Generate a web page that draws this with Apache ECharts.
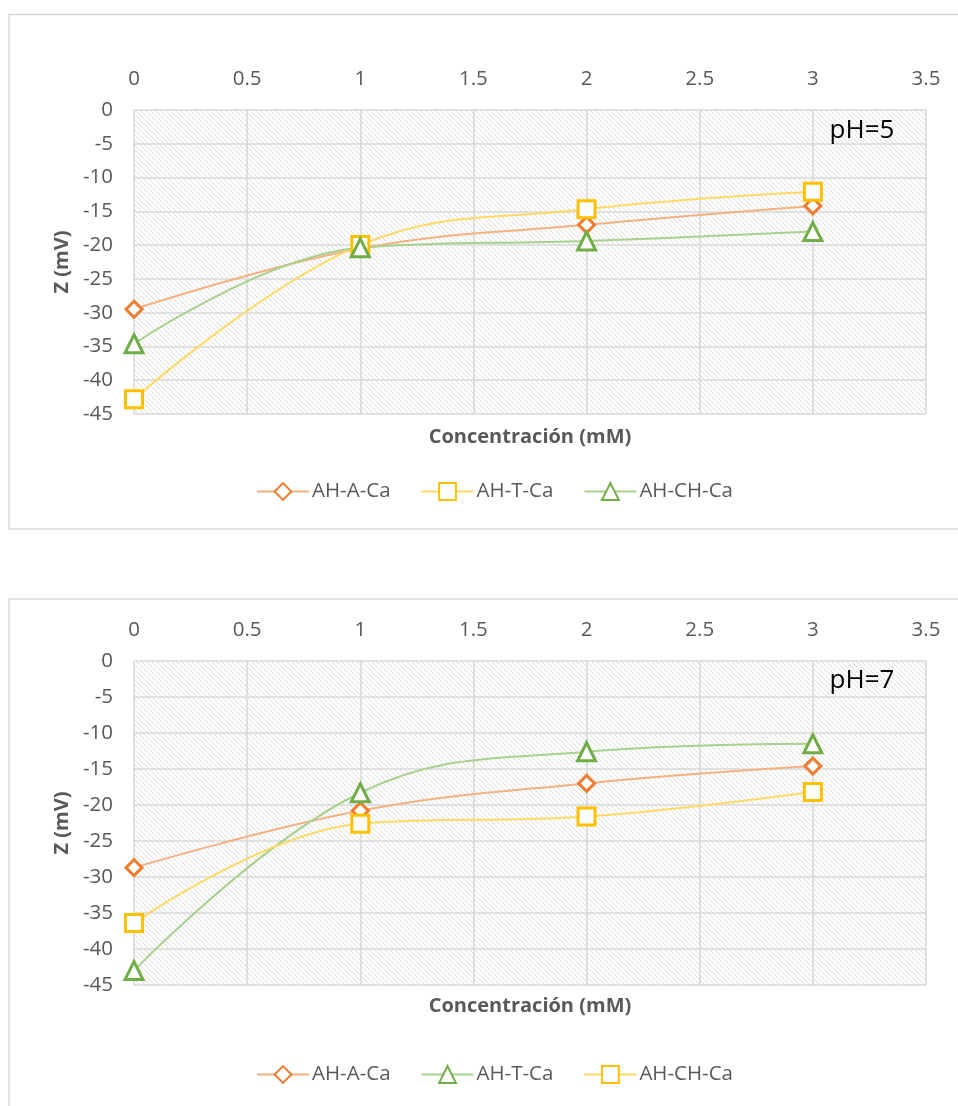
<!DOCTYPE html>
<html>
<head>
<meta charset="utf-8">
<script src="https://cdn.jsdelivr.net/npm/echarts@6/dist/echarts.min.js"></script>
<style>
  html, body { margin: 0; padding: 0; background: #ffffff; }
  #ph5, #ph7 { position: absolute; left: 0; width: 958px; }
  #ph5 { top: 0; height: 560px; }
  #ph7 { top: 560px; height: 546px; }
</style>
</head>
<body>
<div id="ph5"></div>
<div id="ph7"></div>
<script>
// Concentration of Ca (mM) and zeta potential readings (mV)
const concentration = [0, 1, 2, 3];
const xTicks = [0, 0.5, 1, 1.5, 2, 2.5, 3, 3.5];
const yTicks = [0, -5, -10, -15, -20, -25, -30, -35, -40, -45];

// pH = 5
const ph5_AH_A_Ca  = [-29.5, -20.5, -17.0, -14.2];
const ph5_AH_T_Ca  = [-42.8, -20.0, -14.7, -12.1];
const ph5_AH_CH_Ca = [-34.6, -20.4, -19.4, -18.0];

// pH = 7
const ph7_AH_A_Ca  = [-28.7, -20.8, -17.0, -14.6];
const ph7_AH_T_Ca  = [-43.0, -18.3, -12.6, -11.5];
const ph7_AH_CH_Ca = [-36.4, -22.6, -21.6, -18.2];

const FONT = '"Open Sans", "Noto Sans", sans-serif';
const GREY_TEXT = '#595959';
const GRID_LINE = '#d9d9d9';

const styles = {
  orange: { marker: '#ED7D31', line: '#F4B183', symbol: 'diamond', size: 16 },
  yellow: { marker: '#FFC000', line: '#FFD966', symbol: 'rect', size: 17 },
  green:  { marker: '#70AD47', line: '#A9D18E', symbol: 'triangle', size: 18 }
};

// Light diagonal hatch used as the plot background
function hatchPattern() {
  const c = document.createElement('canvas');
  const n = 5;
  c.width = n; c.height = n;
  const g = c.getContext('2d');
  g.fillStyle = '#ffffff';
  g.fillRect(0, 0, n, n);
  g.fillStyle = '#dcdcdc';
  for (let i = 0; i < n; i++) g.fillRect(i, i, 1, 1);
  return { image: c, repeat: 'repeat' };
}

function pairs(values) {
  return concentration.map((x, i) => [x, values[i]]);
}

function makeSeries(name, values, st) {
  return {
    name: name,
    type: 'line',
    smooth: 0.4,
    data: pairs(values),
    symbol: st.symbol,
    symbolSize: st.size,
    lineStyle: { color: st.line, width: 2 },
    itemStyle: { color: '#ffffff', borderColor: st.marker, borderWidth: 3 },
    emphasis: { disabled: true },
    z: 3
  };
}

function buildOption(cfg) {
  return {
    animation: false,
    textStyle: { fontFamily: FONT },
    graphic: [
      {
        type: 'rect',
        shape: { x: 9, y: cfg.boxTop, width: 980, height: cfg.boxHeight },
        style: { fill: 'none', stroke: GRID_LINE, lineWidth: 1.5 },
        silent: true
      },
      {
        type: 'text',
        x: 862, y: cfg.phY,
        style: {
          text: cfg.phText, fill: '#000000', font: '26px ' + FONT,
          align: 'center', verticalAlign: 'middle'
        },
        z: 10
      },
      {
        type: 'text',
        x: 530, y: cfg.xTitleY,
        style: {
          text: 'Concentración (mM)', fill: GREY_TEXT, font: 'bold 20px ' + FONT,
          align: 'center', verticalAlign: 'middle'
        }
      }
    ],
    grid: {
      show: true,
      left: 134, top: cfg.gridTop, width: 792, height: cfg.gridHeight,
      backgroundColor: hatchPattern(),
      borderWidth: 0
    },
    xAxis: {
      type: 'value', position: 'top',
      min: xTicks[0], max: xTicks[xTicks.length - 1], interval: 0.5,
      axisLine: { show: false }, axisTick: { show: false },
      splitLine: { show: true, lineStyle: { color: GRID_LINE, width: 1.6 } },
      axisLabel: { color: GREY_TEXT, fontSize: 20.5, fontFamily: FONT, margin: 20 }
    },
    yAxis: {
      type: 'value',
      min: yTicks[yTicks.length - 1], max: yTicks[0], interval: 5,
      axisLine: { show: false }, axisTick: { show: false },
      splitLine: { show: true, lineStyle: { color: GRID_LINE, width: 1.6 } },
      axisLabel: { color: GREY_TEXT, fontSize: 20.5, fontFamily: FONT, margin: 21 },
      name: 'Z (mV)', nameLocation: 'middle', nameRotate: 90, nameGap: 40,
      nameTextStyle: { color: GREY_TEXT, fontWeight: 'bold', fontSize: 20, fontFamily: FONT }
    },
    legend: {
      top: cfg.legendTop, left: 251,
      itemWidth: 52, itemHeight: 21, itemGap: 30,
      textStyle: { color: GREY_TEXT, fontSize: 20.5, fontFamily: FONT, padding: [0, 0, 0, -2] },
      data: cfg.series.map(s => s.name)
    },
    series: cfg.series
  };
}

const chart5 = echarts.init(document.getElementById('ph5'), null, { renderer: 'canvas' });
chart5.setOption(buildOption({
  boxTop: 14.5, boxHeight: 514.5,
  gridTop: 110, gridHeight: 304,
  phText: 'pH=5', phY: 131,
  xTitleY: 437,
  legendTop: 476,
  series: [
    makeSeries('AH-A-Ca', ph5_AH_A_Ca, styles.orange),
    makeSeries('AH-T-Ca', ph5_AH_T_Ca, styles.yellow),
    makeSeries('AH-CH-Ca', ph5_AH_CH_Ca, styles.green)
  ]
}));

const chart7 = echarts.init(document.getElementById('ph7'), null, { renderer: 'canvas' });
chart7.setOption(buildOption({
  boxTop: 39, boxHeight: 600,
  gridTop: 101, gridHeight: 324,
  phText: 'pH=7', phY: 121,
  xTitleY: 446,
  legendTop: 499,
  series: [
    makeSeries('AH-A-Ca', ph7_AH_A_Ca, styles.orange),
    makeSeries('AH-T-Ca', ph7_AH_T_Ca, styles.green),
    makeSeries('AH-CH-Ca', ph7_AH_CH_Ca, styles.yellow)
  ]
}));
</script>
</body>
</html>
